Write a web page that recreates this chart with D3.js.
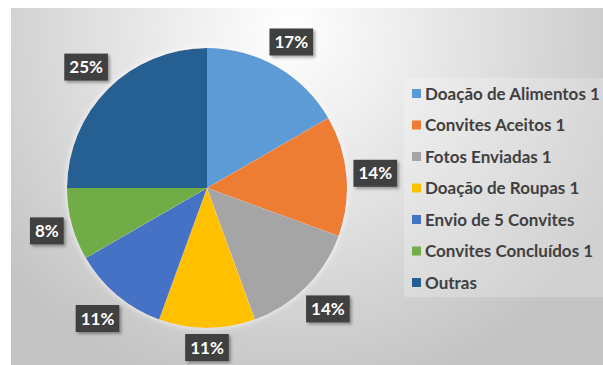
<!DOCTYPE html>
<html lang="pt">
	<head>
		<meta charset="UTF-8" />
		<title>Pizza</title>
		<style>
			body { margin: 0; background: #fff; }
			svg { display: block; }
		</style>
	</head>
	<body>
		<svg id="svg" width="603" height="365"></svg>
		<script src="https://d3js.org/d3.v7.min.js"></script>
		<script>
			const categories = [
				'Doação de Alimentos 1',
				'Convites Aceitos 1',
				'Fotos Enviadas 1',
				'Doação de Roupas 1',
				'Envio de 5 Convites',
				'Convites Concluídos 1',
				'Outras',
			];
			const values = [6, 5, 5, 4, 4, 3, 9];
			const colors = ['#5b9bd5', '#ed7d31', '#a5a5a5', '#ffc000', '#4472c4', '#70ad47', '#255e91'];

			const svg = d3.select('#svg');
			const defs = svg.append('defs');

			// background gradient
			const grad = defs.append('radialGradient')
				.attr('id', 'bg')
				.attr('gradientUnits', 'userSpaceOnUse')
				.attr('cx', 290).attr('cy', 30).attr('r', 370);
			grad.append('stop').attr('offset', '0%').attr('stop-color', '#ffffff');
			grad.append('stop').attr('offset', '50%').attr('stop-color', '#e2e2e2');
			grad.append('stop').attr('offset', '100%').attr('stop-color', '#c4c4c4');

			const shadow = defs.append('filter').attr('id', 'shadow')
				.attr('x', '-20%').attr('y', '-20%').attr('width', '150%').attr('height', '150%');
			shadow.append('feDropShadow')
				.attr('dx', 2).attr('dy', 2).attr('stdDeviation', 1.5)
				.attr('flood-color', '#000').attr('flood-opacity', 0.35);

			const glow = defs.append('filter').attr('id', 'glow')
				.attr('x', '-10%').attr('y', '-10%').attr('width', '120%').attr('height', '120%');
			glow.append('feDropShadow')
				.attr('dx', 0).attr('dy', 0).attr('stdDeviation', 3)
				.attr('flood-color', '#fff').attr('flood-opacity', 0.9);

			svg.append('rect')
				.attr('x', 11).attr('y', 8)
				.attr('width', 603 - 11).attr('height', 365 - 8)
				.attr('fill', 'url(#bg)');

			const cx = 207, cy = 188, r = 140;
			const total = d3.sum(values);
			const pct = d3.format('.0%');

			const pie = d3.pie().sort(null).value((d) => d);
			const arc = d3.arc().innerRadius(0).outerRadius(r);
			const arcs = pie(values);

			const g = svg.append('g').attr('transform', `translate(${cx},${cy})`);
			g.append('g').attr('filter', 'url(#glow)')
				.selectAll('path')
				.data(arcs)
				.enter()
				.append('path')
				.attr('d', arc)
				.attr('fill', (d, i) => colors[i]);

			// data labels, outside end
			const lab = g.selectAll('g.lab')
				.data(arcs)
				.enter()
				.append('g')
				.attr('class', 'lab');

			lab.each(function (d) {
				const sel = d3.select(this);
				const txt = sel.append('text')
					.attr('text-anchor', 'middle')
					.attr('dy', '0.36em')
					.attr('fill', '#fff')
					.style('font-family', 'Lato, "Open Sans", sans-serif')
					.style('font-weight', 700)
					.style('font-size', '17px')
					.text(pct(d.value / total));
				const w = txt.node().getComputedTextLength() + 10;
				const h = 27;
				const a = (d.startAngle + d.endAngle) / 2;
				const s = Math.sin(a), c = -Math.cos(a);
				const dist = r + 6 + (w / 2) * Math.abs(s) + (h / 2) * Math.abs(c);
				sel.attr('transform', `translate(${dist * s},${dist * c})`);
				sel.insert('rect', 'text')
					.attr('x', -w / 2).attr('y', -h / 2)
					.attr('width', w).attr('height', h)
					.attr('fill', '#404040')
					.attr('filter', 'url(#shadow)');
			});

			// legend
			svg.append('rect')
				.attr('x', 404).attr('y', 78)
				.attr('width', 199).attr('height', 219)
				.attr('fill', '#fff').attr('opacity', 0.22);

			const legend = svg.append('g')
				.selectAll('g')
				.data(categories)
				.enter()
				.append('g')
				.attr('transform', (d, i) => `translate(412,${94 + i * 31.5})`);
			legend.append('rect')
				.attr('x', 0).attr('y', -5)
				.attr('width', 9).attr('height', 9)
				.attr('fill', (d, i) => colors[i]);
			legend.append('text')
				.attr('x', 13).attr('dy', '0.35em')
				.attr('fill', '#404040')
				.style('font-family', 'Lato, "Open Sans", sans-serif')
				.style('font-weight', 700)
				.style('font-size', '17px')
				.text((d) => d);
		</script>
	</body>
</html>
